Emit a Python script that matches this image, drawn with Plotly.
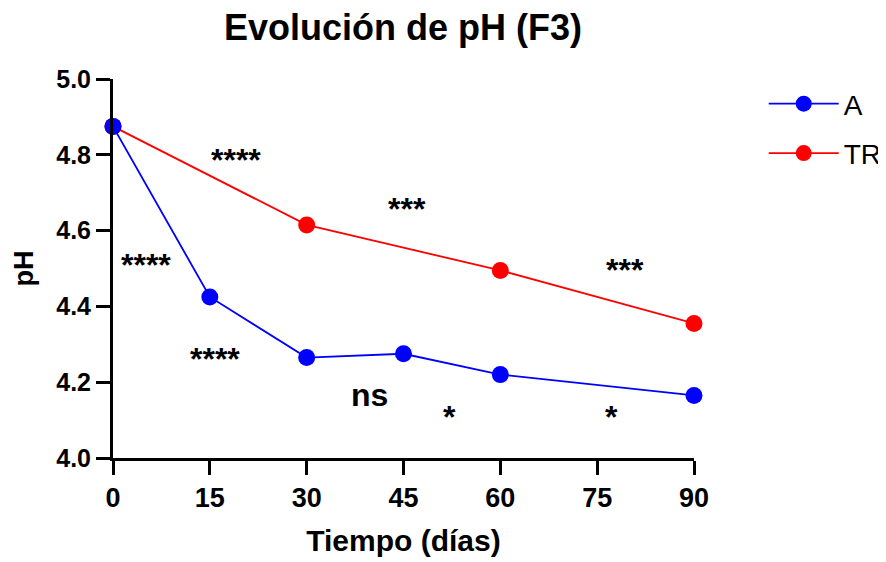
import plotly.graph_objects as go

dias_A = [0, 15, 30, 45, 60, 90]
ph_A = [4.875, 4.425, 4.265, 4.275, 4.22, 4.165]
dias_TR = [0, 30, 60, 90]
ph_TR = [4.875, 4.615, 4.495, 4.355]

sig_labels = ["****", "***", "***", "****", "****", "ns", "*", "*"]
sig_x = [19.05, 45.5, 79.3, 5.1, 15.8, 39.8, 52.05, 77.15]
sig_y = [4.787, 4.656, 4.497, 4.510, 4.260, 4.166, 4.109, 4.109]

x_ticks = [0, 15, 30, 45, 60, 75, 90]
y_ticks = [4.0, 4.2, 4.4, 4.6, 4.8, 5.0]

FONT = "Liberation Sans, Arial"
W, H = 878, 554

fig = go.Figure()
fig.add_trace(go.Scatter(x=dias_TR, y=ph_TR, mode="lines+markers", name="TR",
                         legendrank=2, legendgroup="tr",
                         line=dict(color="#FF0000", width=1.8),
                         marker=dict(color="#FF0000", size=17), cliponaxis=False))
fig.add_trace(go.Scatter(x=dias_A, y=ph_A, mode="lines+markers", name="A",
                         legendrank=1, legendgroup="a",
                         line=dict(color="#0000FF", width=1.8),
                         marker=dict(color="#0000FF", size=17), cliponaxis=False))

for t, x, y in zip(sig_labels, sig_x, sig_y):
    fig.add_annotation(x=x, y=y, text="<b>%s</b>" % t, showarrow=False,
                       font=dict(family=FONT, size=32, color="black"))

fig.update_layout(
    width=W, height=H,
    margin=dict(l=105, r=192, t=71, b=104, autoexpand=False),
    paper_bgcolor="white", plot_bgcolor="white",
    title=dict(text="<b>Evolución de pH (F3)</b>", x=395 / W, xanchor="center",
               y=1 - 19 / H, yanchor="middle",
               font=dict(family=FONT, size=36, color="black")),
    legend=dict(x=1.120, xanchor="left", y=1.0, yanchor="top",
                font=dict(family=FONT, size=28, color="black"),
                itemwidth=70,
                tracegroupgap=10, bgcolor="rgba(0,0,0,0)"),
    showlegend=True,
)
fig.update_xaxes(range=[0, 90], tickvals=x_ticks, ticktext=["<b>%d</b>" % v for v in x_ticks],
                 showline=True, linecolor="black", linewidth=3, ticks="outside",
                 ticklen=14, tickwidth=3, tickcolor="black", showgrid=False, zeroline=False,
                 tickfont=dict(family=FONT, size=27, color="black"),
                 title=dict(text="<b>Tiempo (días)</b>", standoff=18,
                            font=dict(family=FONT, size=30, color="black")))
fig.update_yaxes(range=[4.0, 5.0], tickvals=y_ticks, ticktext=["<b>%.1f</b>" % v for v in y_ticks],
                 showline=True, linecolor="black", linewidth=3, ticks="outside",
                 ticklen=14, tickwidth=3, tickcolor="black", showgrid=False, zeroline=False,
                 tickfont=dict(family=FONT, size=25, color="black"),
                 title=dict(text="<b>pH</b>", standoff=15,
                            font=dict(family=FONT, size=27, color="black")))

fig.write_html("out.html")
